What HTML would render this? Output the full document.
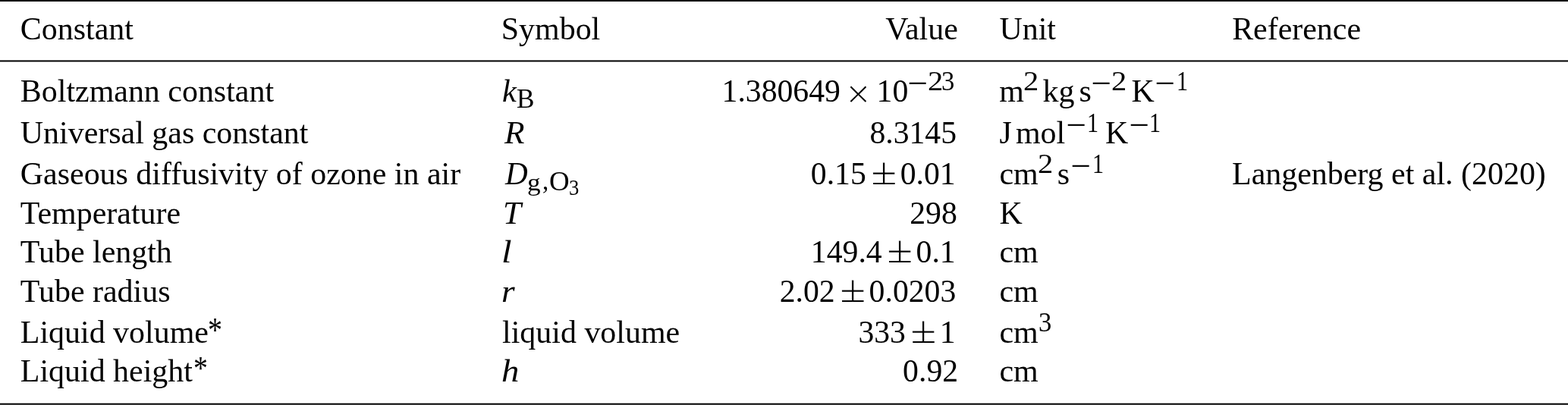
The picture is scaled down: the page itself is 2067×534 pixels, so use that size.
<!DOCTYPE html>
<html lang="en"><head><meta charset="utf-8"><title>Table of constants</title><style>
html,body{margin:0;padding:0;background:#fff;}
body{width:2067px;height:534px;position:relative;overflow:hidden;font-family:"Liberation Serif",serif;color:#000;}
.tbl,.tr,.td{display:block;margin:0;padding:0;height:0;}
.t{position:absolute;display:block;white-space:pre;font-size:41.95px;line-height:66px;height:66px;font-style:normal;font-weight:400;vertical-align:baseline;transform-origin:0 0;}
.i{font-style:italic;}
.x{font-family:"DejaVu Sans Light","DejaVu Sans",sans-serif;font-weight:200;}
svg{position:absolute;left:0;top:0;}
</style></head><body>
<svg width="2067" height="534" viewBox="0 0 2067 534"><rect x="0" y="0" width="2067" height="2" fill="#000"/><rect x="0" y="79.45" width="2067" height="2" fill="#000"/><rect x="0" y="531.7" width="2067" height="2" fill="#000"/></svg>
<div class="tbl" role="table">
<div class="tr" role="row">
<div class="td" role="columnheader"><span class="t" style="left:26.80px;top:5px;">Constant</span></div>
<div class="td" role="columnheader"><span class="t" style="left:660.77px;top:5px;">Symbol</span></div>
<div class="td" role="columnheader"><span class="t" style="left:1167.33px;top:5px;">Value</span></div>
<div class="td" role="columnheader"><span class="t" style="left:1317.40px;top:5px;">Unit</span></div>
<div class="td" role="columnheader"><span class="t" style="left:1624.14px;top:5px;">Reference</span></div>
</div>
<div class="tr" role="row">
<div class="td" role="cell"><span class="t" style="left:26.80px;top:87px;">Boltzmann constant</span></div>
<div class="td" role="cell"><i class="t i" style="left:662.13px;top:87px;font-size:42.01px;transform:scaleX(1.0077);">k</i><sub class="t" style="left:680.84px;top:99px;line-height:61px;height:61px;font-size:36.81px;transform:scaleX(0.9573);">B</sub></div>
<div class="td" role="cell"><span class="t" style="left:951.55px;top:87px;font-size:41.70px;">1.380649</span><span class="t x" style="left:1114.15px;top:89px;line-height:68px;height:68px;font-size:40.58px;transform:scaleX(1.0240);">×</span><span class="t" style="left:1155.55px;top:87px;font-size:41.70px;">10</span><sup class="t x" style="left:1195.22px;top:66px;line-height:84px;height:84px;font-size:55.00px;transform:scaleX(0.6375);">−</sup><sup class="t" style="left:1222.88px;top:77px;line-height:60px;height:60px;font-size:36.23px;transform:scaleX(1.1180);">2</sup><sup class="t" style="left:1241.35px;top:77px;line-height:60px;height:60px;font-size:36.21px;transform:scaleX(0.9574);">3</sup></div>
<div class="td" role="cell"><span class="t" style="left:1317.26px;top:87px;">m</span><sup class="t" style="left:1349.13px;top:77px;line-height:60px;height:60px;font-size:36.23px;transform:scaleX(1.1180);">2</sup><span class="t" style="left:1374.56px;top:87px;">kg</span><span class="t" style="left:1422.52px;top:87px;">s</span><sup class="t x" style="left:1437.42px;top:66px;line-height:84px;height:84px;font-size:55.00px;transform:scaleX(0.6375);">−</sup><sup class="t" style="left:1465.08px;top:77px;line-height:60px;height:60px;font-size:36.23px;transform:scaleX(1.1180);">2</sup><span class="t" style="left:1491.44px;top:87px;">K</span><sup class="t x" style="left:1520.62px;top:66px;line-height:84px;height:84px;font-size:55.00px;transform:scaleX(0.6375);">−</sup><sup class="t" style="left:1550.87px;top:77px;line-height:60px;height:60px;font-size:36.36px;transform:scaleX(0.8270);">1</sup></div>
<div class="td" role="cell"></div>
</div>
<div class="tr" role="row">
<div class="td" role="cell"><span class="t" style="left:26.80px;top:142px;">Universal gas constant</span></div>
<div class="td" role="cell"><i class="t i" style="left:665.32px;top:141px;line-height:67px;height:67px;font-size:42.75px;transform:scaleX(1.0137);">R</i></div>
<div class="td" role="cell"><span class="t" style="left:1146.39px;top:142px;font-size:41.70px;">8.3145</span></div>
<div class="td" role="cell"><span class="t" style="left:1317.56px;top:142px;">J</span><span class="t" style="left:1338.96px;top:142px;">mol</span><sup class="t x" style="left:1403.92px;top:121px;line-height:84px;height:84px;font-size:55.00px;transform:scaleX(0.6375);">−</sup><sup class="t" style="left:1432.77px;top:132px;line-height:60px;height:60px;font-size:36.36px;transform:scaleX(0.8270);">1</sup><span class="t" style="left:1456.94px;top:142px;">K</span><sup class="t x" style="left:1486.52px;top:121px;line-height:84px;height:84px;font-size:55.00px;transform:scaleX(0.6375);">−</sup><sup class="t" style="left:1515.37px;top:132px;line-height:60px;height:60px;font-size:36.36px;transform:scaleX(0.8270);">1</sup></div>
<div class="td" role="cell"></div>
</div>
<div class="tr" role="row">
<div class="td" role="cell"><span class="t" style="left:26.80px;top:196px;">Gaseous diffusivity of ozone in air</span></div>
<div class="td" role="cell"><i class="t i" style="left:666.11px;top:195px;line-height:67px;height:67px;font-size:42.43px;transform:scaleX(0.9689);">D</i><sub class="t" style="left:695.40px;top:212px;line-height:56px;height:56px;font-size:32.14px;transform:scaleX(1.0953);">g</sub><sub class="t" style="left:714.98px;top:210px;line-height:57px;height:57px;font-size:34.17px;transform:scaleX(0.9559);">,</sub><sub class="t" style="left:723.73px;top:209px;line-height:60px;height:60px;font-size:36.28px;transform:scaleX(1.0163);">O</sub><sub class="t" style="left:750.03px;top:221px;line-height:52px;height:52px;font-size:29.14px;transform:scaleX(0.9150);">3</sub></div>
<div class="td" role="cell"><span class="t" style="left:1068.85px;top:196px;font-size:41.70px;">0.15</span><span class="t" style="left:1148.13px;top:185px;line-height:87px;height:87px;font-size:60.52px;transform:scaleX(1.0384);-webkit-text-stroke:0.8px #fff;clip-path:inset(0 0 28.60px 0);">±</span><span class="t" style="left:1186.73px;top:196px;font-size:41.70px;">0.01</span></div>
<div class="td" role="cell"><span class="t" style="left:1317.40px;top:196px;">cm</span><sup class="t" style="left:1368.18px;top:186px;line-height:60px;height:60px;font-size:36.23px;transform:scaleX(1.1180);">2</sup><span class="t" style="left:1393.82px;top:196px;">s</span><sup class="t x" style="left:1409.52px;top:175px;line-height:84px;height:84px;font-size:55.00px;transform:scaleX(0.6375);">−</sup><sup class="t" style="left:1439.67px;top:186px;line-height:60px;height:60px;font-size:36.36px;transform:scaleX(0.8270);">1</sup></div>
<div class="td" role="cell"><span class="t" style="left:1624.04px;top:196px;">Langenberg et al. (2020)</span></div>
</div>
<div class="tr" role="row">
<div class="td" role="cell"><span class="t" style="left:26.80px;top:248px;">Temperature</span></div>
<div class="td" role="cell"><i class="t i" style="left:663.20px;top:247px;line-height:67px;height:67px;font-size:43.05px;transform:scaleX(1.0009);">T</i></div>
<div class="td" role="cell"><span class="t" style="left:1199.21px;top:248px;font-size:41.70px;">298</span></div>
<div class="td" role="cell"><span class="t" style="left:1317.40px;top:248px;">K</span></div>
<div class="td" role="cell"></div>
</div>
<div class="tr" role="row">
<div class="td" role="cell"><span class="t" style="left:26.80px;top:299px;">Tube length</span></div>
<div class="td" role="cell"><i class="t i" style="left:660.63px;top:299px;font-size:41.87px;transform:scaleX(1.1676);">l</i></div>
<div class="td" role="cell"><span class="t" style="left:1068.85px;top:299px;font-size:41.70px;">149.4</span><span class="t" style="left:1168.98px;top:288px;line-height:87px;height:87px;font-size:60.52px;transform:scaleX(1.0384);-webkit-text-stroke:0.8px #fff;clip-path:inset(0 0 28.60px 0);">±</span><span class="t" style="left:1207.58px;top:299px;font-size:41.70px;">0.1</span></div>
<div class="td" role="cell"><span class="t" style="left:1317.40px;top:299px;">cm</span></div>
<div class="td" role="cell"></div>
</div>
<div class="tr" role="row">
<div class="td" role="cell"><span class="t" style="left:26.80px;top:351px;">Tube radius</span></div>
<div class="td" role="cell"><i class="t i" style="left:661.38px;top:350px;line-height:67px;height:67px;font-size:42.34px;transform:scaleX(1.0720);">r</i></div>
<div class="td" role="cell"><span class="t" style="left:1027.75px;top:351px;font-size:41.70px;">2.02</span><span class="t" style="left:1107.03px;top:340px;line-height:87px;height:87px;font-size:60.52px;transform:scaleX(1.0384);-webkit-text-stroke:0.8px #fff;clip-path:inset(0 0 28.60px 0);">±</span><span class="t" style="left:1145.62px;top:351px;font-size:41.70px;">0.0203</span></div>
<div class="td" role="cell"><span class="t" style="left:1317.40px;top:351px;">cm</span></div>
<div class="td" role="cell"></div>
</div>
<div class="tr" role="row">
<div class="td" role="cell"><span class="t" style="left:26.80px;top:405px;">Liquid volume</span><span class="t" style="left:274.30px;top:400px;line-height:71px;height:71px;font-size:45.99px;transform:scaleX(0.8263);">*</span></div>
<div class="td" role="cell"><span class="t" style="left:662.05px;top:405px;">liquid volume</span></div>
<div class="td" role="cell"><span class="t" style="left:1131.40px;top:405px;font-size:41.70px;">333</span><span class="t" style="left:1200.25px;top:394px;line-height:87px;height:87px;font-size:60.52px;transform:scaleX(1.0384);-webkit-text-stroke:0.8px #fff;clip-path:inset(0 0 28.60px 0);">±</span><span class="t" style="left:1238.85px;top:405px;font-size:41.70px;">1</span></div>
<div class="td" role="cell"><span class="t" style="left:1317.40px;top:405px;">cm</span><sup class="t" style="left:1368.65px;top:395px;line-height:60px;height:60px;font-size:36.21px;transform:scaleX(0.9574);">3</sup></div>
<div class="td" role="cell"></div>
</div>
<div class="tr" role="row">
<div class="td" role="cell"><span class="t" style="left:26.80px;top:456px;">Liquid height</span><span class="t" style="left:254.91px;top:450px;line-height:70px;height:70px;font-size:45.17px;transform:scaleX(0.8357);">*</span></div>
<div class="td" role="cell"><i class="t i" style="left:661.45px;top:456px;font-size:41.87px;transform:scaleX(1.1145);">h</i></div>
<div class="td" role="cell"><span class="t" style="left:1190.12px;top:456px;font-size:41.70px;">0.92</span></div>
<div class="td" role="cell"><span class="t" style="left:1317.40px;top:456px;">cm</span></div>
<div class="td" role="cell"></div>
</div>
</div>
<svg width="2067" height="534" viewBox="0 0 2067 534"><rect x="1151.13" y="241.00" width="28.5" height="2" fill="#000"/><rect x="1171.98" y="344.00" width="28.5" height="2" fill="#000"/><rect x="1110.03" y="396.00" width="28.5" height="2" fill="#000"/><rect x="1203.25" y="450.00" width="28.5" height="2" fill="#000"/></svg>
</body></html>
